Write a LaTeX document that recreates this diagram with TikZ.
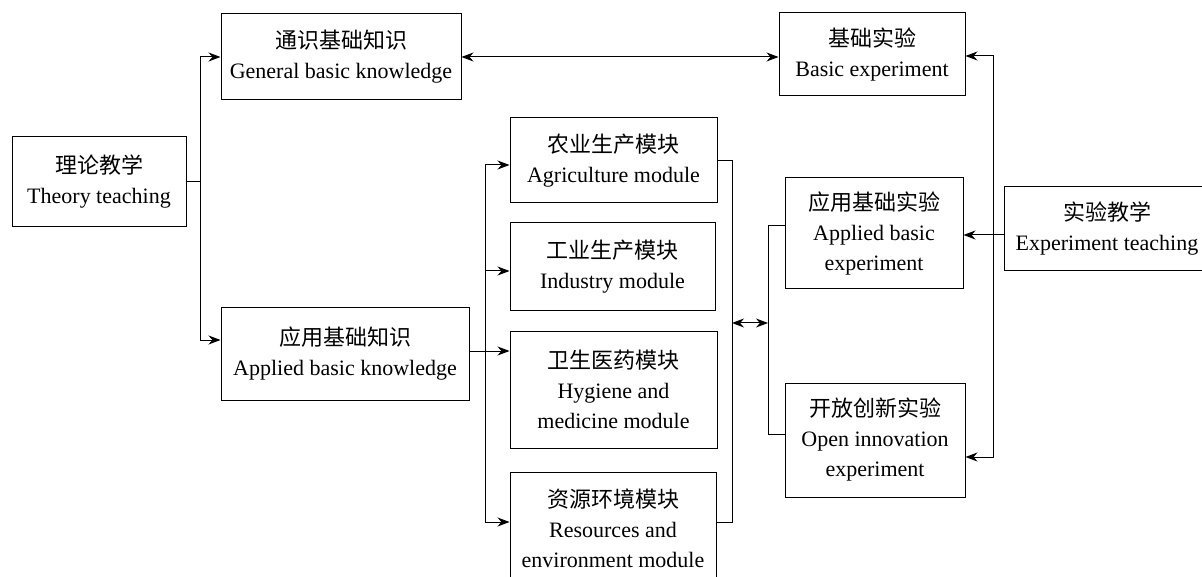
\documentclass[tikz,border=0pt]{standalone}
\usepackage{fontspec}
\setmainfont{Liberation Serif}
\newfontfamily\cjk{Noto Sans CJK SC}
\usetikzlibrary{arrows.meta}
\begin{document}
\begin{tikzpicture}[x=1pt,y=-1pt,
  box/.style={draw,line width=1pt,rectangle,align=center,inner sep=0pt,
    font=\fontsize{22}{30}\selectfont},
  ln/.style={line width=1pt},
  arr/.style={ln,-{Stealth[length=12pt,width=9pt]}},
  arrtwo/.style={ln,{Stealth[length=12pt,width=9pt]}-{Stealth[length=12pt,width=9pt]}}]
\useasboundingbox (0,0) rectangle (1202,577);
% nodes
\node[box,minimum width=174,minimum height=90] (theory) at (99,182)
  {{\cjk 理论教学}\\Theory teaching};
\node[box,minimum width=240,minimum height=86] (general) at (341,57)
  {{\cjk 通识基础知识}\\General basic knowledge};
\node[box,minimum width=248,minimum height=92] (appk) at (345,354)
  {{\cjk 应用基础知识}\\Applied basic knowledge};
\node[box,minimum width=207,minimum height=85] (agri) at (613.5,160.5)
  {{\cjk 农业生产模块}\\Agriculture module};
\node[box,minimum width=205,minimum height=88] (ind) at (612.5,267)
  {{\cjk 工业生产模块}\\Industry module};
\node[box,minimum width=207,minimum height=117] (hyg) at (613.5,389.5)
  {{\cjk 卫生医药模块}\\Hygiene and\\medicine module};
\node[box,minimum width=206,minimum height=112] (res) at (613,528)
  {{\cjk 资源环境模块}\\Resources and\\environment module};
\node[box,minimum width=186,minimum height=83] (basic) at (872,54.5)
  {{\cjk 基础实验}\\Basic experiment};
\node[box,minimum width=178,minimum height=111] (appexp) at (874,233.5)
  {{\cjk 应用基础实验}\\Applied basic\\experiment};
\node[box,minimum width=180,minimum height=114] (open) at (875,440)
  {{\cjk 开放创新实验}\\Open innovation\\experiment};
\node[box,minimum width=206,minimum height=84] (exteach) at (1107,229)
  {{\cjk 实验教学}\\Experiment teaching};
% junction coordinates
\coordinate (tj) at (200,182);
\coordinate (aj) at (485,351);
\coordinate (b1) at (732,160.5);
\coordinate (b2) at (732,522);
\coordinate (m1) at (732,323);
\coordinate (m2) at (768,323);
\coordinate (e1) at (768,226);
\coordinate (e2) at (768,434);
\coordinate (rj) at (993,235);
\coordinate (rt) at (993,56);
\coordinate (rb) at (993,457);
% left tree
\draw[ln] (theory.east) -- (tj);
\draw[arr] (tj) |- (general.west);
\draw[arr] (tj) |- ([yshift=14pt]appk.west);
% top link
\draw[arrtwo] (general.east) -- (basic.west |- general.east);
% module tree
\draw[ln] ([yshift=3pt]appk.east) -- (aj);
\draw[arr] (aj) |- ([yshift=-4.5pt]agri.west);
\draw[arr] (aj) |- ([yshift=-4pt]ind.west);
\draw[arr] (aj) -- (hyg.west |- aj);
\draw[arr] (aj) |- (res.west |- b2);
% right bracket of modules
\draw[ln] (agri.east) -- (b1) -- (b2) -- (res.east |- b2);
\draw[arrtwo] (m1) -- (m2);
% left bracket of experiments
\draw[ln] (appexp.west |- e1) -- (e1) -- (e2) -- (open.west |- e2);
% right tree
\draw[ln] (exteach.west |- rj) -- (rj);
\draw[arr] (rj) -- (appexp.east |- rj);
\draw[arr] (rj) -- (rt) -- (basic.east |- rt);
\draw[arr] (rj) -- (rb) -- (open.east |- rb);
\end{tikzpicture}
\end{document}
